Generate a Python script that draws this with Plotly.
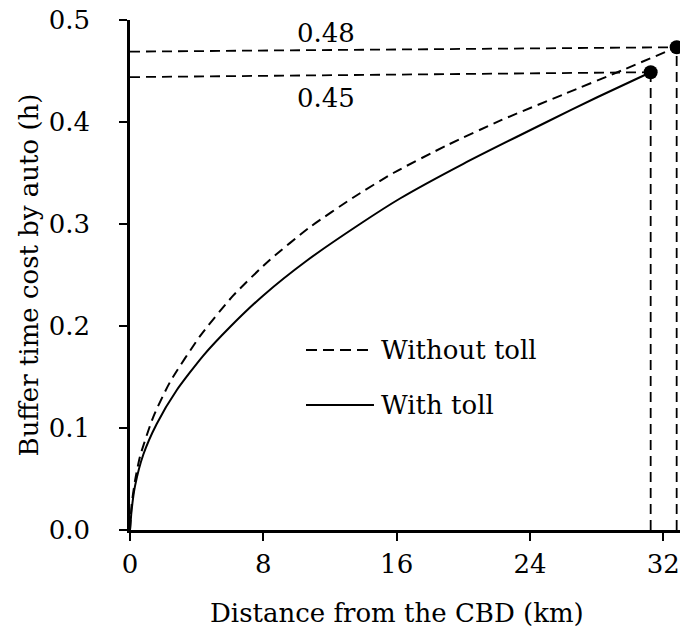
import plotly.graph_objects as go

# ---- data ----
dist_without = [0, 0.1, 0.3, 0.6, 1.4, 2.4, 4.2, 6.2, 8.4, 10.8, 13.4, 15.8, 19.0, 22.3, 26.0, 29.5, 32.8]
cost_without = [0, 0.025, 0.048, 0.072, 0.111, 0.145, 0.190, 0.230, 0.265, 0.297, 0.326, 0.350, 0.377, 0.402, 0.427, 0.4505, 0.4733]

dist_with = [0, 0.1, 0.3, 0.8, 1.6, 2.8, 4.4, 6.0, 8.0, 10.6, 13.8, 16.2, 20.0, 25.0, 28.0, 31.24]
cost_with = [0, 0.020, 0.043, 0.074, 0.104, 0.137, 0.171, 0.199, 0.230, 0.264, 0.300, 0.325, 0.359, 0.400, 0.424, 0.4488]

end_without = (32.8, 0.4733)
end_with = (31.24, 0.4488)
guide_left = [0.4690, 0.4440]          # where the guide lines meet the y axis
label_text = ["0.48", "0.45"]
label_pos = [(11.76, 0.4877), (11.76, 0.4240)]

x_ticks = [0, 8, 16, 24, 32]
y_ticks = [0.0, 0.1, 0.2, 0.3, 0.4, 0.5]
y_tick_text = ["0.0", "0.1", "0.2", "0.3", "0.4", "0.5"]

FONT = "DejaVu Serif"
FS = 26
DASH = "10px,6px"

fig = go.Figure()

# guide lines (horizontal & vertical dashed)
ends = [end_without, end_with]
for (ex, ey), yl in zip(ends, guide_left):
    fig.add_trace(go.Scatter(x=[0, ex], y=[yl, ey], mode="lines",
                             line=dict(color="black", width=1.8, dash=DASH),
                             showlegend=False, hoverinfo="skip"))
    fig.add_trace(go.Scatter(x=[ex, ex], y=[0, ey], mode="lines",
                             line=dict(color="black", width=1.8, dash=DASH),
                             showlegend=False, hoverinfo="skip"))

# curves
fig.add_trace(go.Scatter(x=dist_without, y=cost_without, mode="lines",
                         line=dict(color="black", width=2, dash=DASH, shape="spline", smoothing=0.6),
                         name="Without toll", showlegend=False))
fig.add_trace(go.Scatter(x=dist_with, y=cost_with, mode="lines",
                         line=dict(color="black", width=2, shape="spline", smoothing=0.6),
                         name="With toll", showlegend=False))

# end points
fig.add_trace(go.Scatter(x=[end_without[0], end_with[0]], y=[end_without[1], end_with[1]],
                         mode="markers", marker=dict(color="black", size=14),
                         showlegend=False, hoverinfo="skip", cliponaxis=False))

# value labels
for t, (lx, ly) in zip(label_text, label_pos):
    fig.add_annotation(x=lx, y=ly, text=t, showarrow=False,
                       font=dict(family=FONT, size=FS, color="black"))

# manual legend
fig.add_shape(type="line", xref="paper", yref="paper", x0=0.32, x1=0.4327, y0=0.353, y1=0.353,
              line=dict(color="black", width=2, dash="11px,6px"))
fig.add_shape(type="line", xref="paper", yref="paper", x0=0.32, x1=0.4436, y0=0.245, y1=0.245,
              line=dict(color="black", width=2))
fig.add_annotation(xref="paper", yref="paper", x=0.452, y=0.353, text="Without toll",
                   showarrow=False, xanchor="left", yanchor="middle",
                   font=dict(family=FONT, size=FS, color="black"))
fig.add_annotation(xref="paper", yref="paper", x=0.452, y=0.245, text="With toll",
                   showarrow=False, xanchor="left", yanchor="middle",
                   font=dict(family=FONT, size=FS, color="black"))

# x axis title as annotation (centered like reference)
fig.add_annotation(xref="paper", yref="paper", x=(397 - 130) / 550, y=-0.163,
                   text="Distance from the CBD (km)", showarrow=False,
                   xanchor="center", yanchor="middle",
                   font=dict(family=FONT, size=FS, color="black"))

fig.update_layout(
    width=680, height=635,
    margin=dict(l=130, r=0, t=20, b=105),
    paper_bgcolor="white", plot_bgcolor="white",
    font=dict(family=FONT, size=FS, color="black"),
    showlegend=False,
)
fig.update_xaxes(range=[0, 33.0], tickvals=x_ticks, ticks="outside", ticklen=8, tickwidth=2,
                 tickcolor="black", showline=True, linecolor="black", linewidth=2.5,
                 showgrid=False, zeroline=False, ticklabelstandoff=1,
                 tickfont=dict(family=FONT, size=FS, color="black"))
fig.update_yaxes(range=[0, 0.5], tickvals=y_ticks, ticktext=y_tick_text, ticks="outside",
                 ticklen=8, tickwidth=2, tickcolor="black", showline=True, linecolor="black",
                 linewidth=2.5, showgrid=False, zeroline=False, ticklabelstandoff=24,
                 title=dict(text="Buffer time cost by auto (h)", standoff=3,
                            font=dict(family=FONT, size=FS, color="black")),
                 tickfont=dict(family=FONT, size=FS, color="black"))

fig.write_html("out.html")
